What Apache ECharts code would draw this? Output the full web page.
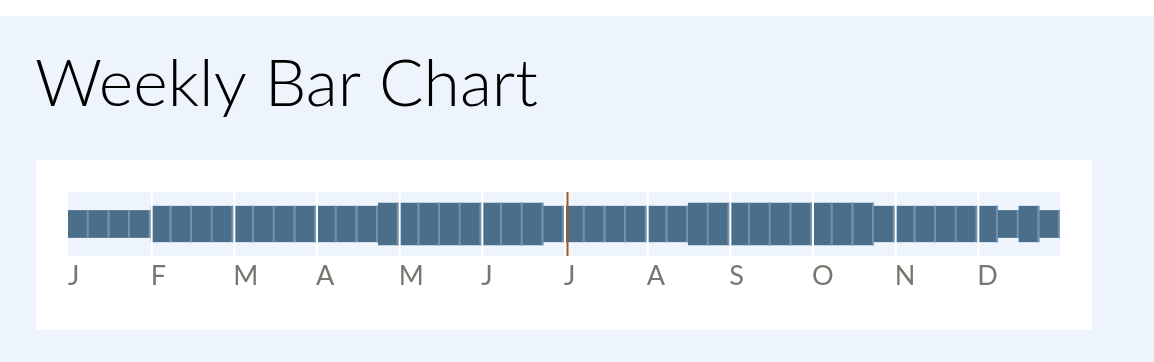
<!DOCTYPE html>
<html>
<head>
<meta charset="utf-8">
<script src="https://cdn.jsdelivr.net/npm/echarts@6/dist/echarts.min.js"></script>
<style>
html,body{margin:0;padding:0;background:#fff;}
#chart{width:1154px;height:362px;}
</style>
</head>
<body>
<div id="chart"></div>
<script>
// ---- data ----
const monthLabels = ['J','F','M','A','M','J','J','A','S','O','N','D'];
const weeksPerMonth = 4;
const weeklyValues = [
  13,13,13,13,   // Jan
  17,17,17,17,   // Feb
  17,17,17,17,   // Mar
  17,17,17,20,   // Apr
  20,20,20,20,   // May
  20,20,20,17,   // Jun
  17,17,17,17,   // Jul
  17,17,20,20,   // Aug
  20,20,20,20,   // Sep
  20,20,20,17,   // Oct
  17,17,17,17,   // Nov
  17,13,17,13    // Dec
];
const todayWeek = 24.17;
// --------------

const totalWeeks = monthLabels.length * weeksPerMonth;
const barData = weeklyValues.map((v, i) => [i, v]);
const monthBoundaries = monthLabels.map((m, i) => i * weeksPerMonth).filter(x => x > 0);

const chart = echarts.init(document.getElementById('chart'), null, {renderer: 'canvas'});

const BAR = '#4b6e8b';
const STRIPE = '#7590a8';
const BG = '#edf4fb';

chart.setOption({
  backgroundColor: BG,
  animation: false,
  graphic: [
    {type: 'rect', z: -10, shape: {x: 0, y: 0, width: 1154, height: 16}, style: {fill: '#ffffff'}, silent: true},
    {type: 'rect', z: -10, shape: {x: 36, y: 160, width: 1056, height: 170}, style: {fill: '#ffffff'}, silent: true}
  ],
  title: {
    text: 'Weekly Bar Chart',
    left: 30,
    top: 47,
    textStyle: {fontFamily: 'Lato', fontWeight: 300, fontSize: 66, color: '#000'}
  },
  grid: {
    left: 68, right: 94, top: 192, height: 64,
    show: true, backgroundColor: BG, borderWidth: 0
  },
  xAxis: {
    type: 'value', min: 0, max: totalWeeks, interval: weeksPerMonth,
    axisLine: {show: false}, axisTick: {show: false}, splitLine: {show: false},
    axisLabel: {
      formatter: v => monthLabels[Math.round(v / weeksPerMonth)] || '',
      align: 'left', color: '#77766f', fontFamily: 'Lato', fontSize: 27, margin: 7,
      showMaxLabel: false
    }
  },
  yAxis: {
    type: 'value', min: -15, max: 15,
    show: false
  },
  series: [
    {
      type: 'custom',
      data: barData,
      renderItem: (params, api) => {
        const i = api.value(0), v = api.value(1);
        const p0 = api.coord([i, v / 2]);
        const p1 = api.coord([i + 1, -v / 2]);
        const w = p1[0] - p0[0], h = p1[1] - p0[1];
        return {
          type: 'group',
          children: [
            {type: 'rect', shape: {x: p0[0], y: p0[1], width: w, height: h}, style: {fill: BAR}},
            {type: 'rect', shape: {x: p1[0] - 2, y: p0[1], width: 2, height: h}, style: {fill: STRIPE}}
          ]
        };
      }
    },
    {
      type: 'custom',
      data: monthBoundaries.map(x => [x]),
      z: 5,
      renderItem: (params, api) => {
        const x = api.value(0);
        const top = api.coord([x, 15]);
        const bot = api.coord([x, -15]);
        return {type: 'rect', shape: {x: top[0], y: top[1], width: 2, height: bot[1] - top[1]}, style: {fill: '#ffffff'}};
      }
    },
    {
      type: 'custom',
      data: [[todayWeek]],
      z: 6,
      renderItem: (params, api) => {
        const x = api.value(0);
        const top = api.coord([x, 15]);
        const bot = api.coord([x, -15]);
        return {type: 'rect', shape: {x: top[0] - 1, y: top[1], width: 2, height: bot[1] - top[1]}, style: {fill: '#a65a1d'}};
      }
    }
  ]
});
</script>
</body>
</html>
